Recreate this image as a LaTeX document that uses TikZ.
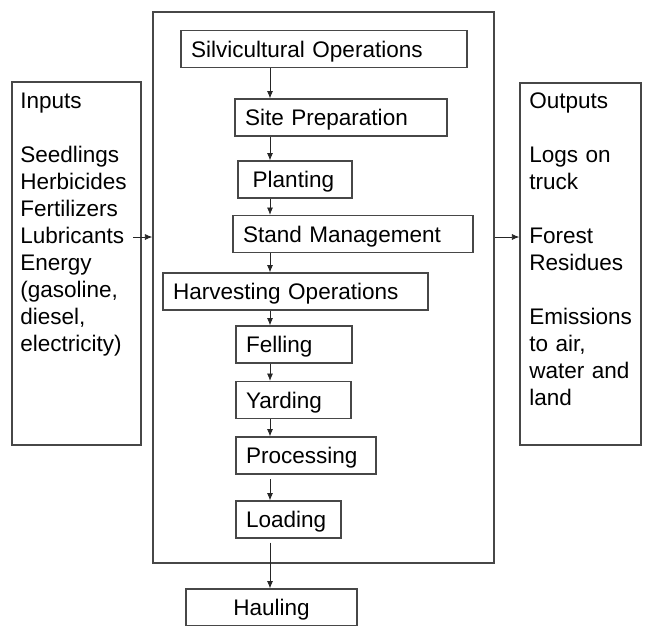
\documentclass[tikz,border=0pt]{standalone}
\usepackage{fontspec}
\setmainfont{Liberation Sans}
\usetikzlibrary{arrows.meta}
\definecolor{edge}{rgb}{0.28,0.28,0.28}

\begin{document}
\begin{tikzpicture}[x=0.75pt,y=-0.75pt,
    font=\fontsize{16.9}{20.25}\selectfont,
    frame/.style={draw=edge, line width=1.1pt},
    stage/.style={draw=edge, line width=0.9pt, align=left, inner xsep=7.5pt,
      text height=12pt, text depth=0pt, minimum height=27.75pt},
    flow/.style={draw=black!85, line width=0.6pt, -{Latex[length=5.5pt,width=4.5pt]}},
    list/.style={anchor=base west, align=left, inner sep=0pt, text width=110pt}]
  %Config
  \useasboundingbox (0,0) rectangle (645,625);
  \clip (0,0) rectangle (645,625);
  \coordinate (col) at (270,0);
  \coordinate (port) at (133,237);

  %Caixas grandes
  \node[frame, minimum width=96.75pt, minimum height=272.25pt] (inbox) at (76.5,263.5) {};
  \node[frame, minimum width=255.75pt, minimum height=413.25pt] (mainbox) at (323.5,287.5) {};
  \node[frame, minimum width=90.75pt, minimum height=271.5pt] (outbox) at (580.5,264) {};

  %Textos
  \node[list] (intext) at (20,108) {Inputs\\[20.25pt]Seedlings\\Herbicides\\Fertilizers\\Lubricants\\Energy\\(gasoline,\\diesel,\\electricity)};
  \node[list] (outtext) at (529,108) {Outputs\\[20.25pt]Logs on\\truck\\[20.25pt]Forest\\Residues\\[20.25pt]Emissions\\to air,\\water and\\land};

  %Etapas
  \node[stage, text width=199.5pt] (silv) at (324,49) {Silvicultural Operations};
  \node[stage, text width=144pt] (site) at (341,117.5) {Site Preparation};
  \node[stage, inner xsep=11pt, text width=63.5pt] (plant) at (295,179.5) {Planting};
  \node[stage, text width=165pt] (stand) at (353,234) {Stand Management};
  \node[stage, text width=183.75pt] (harv) at (295.5,291.5) {Harvesting Operations};
  \node[stage, text width=72pt] (fell) at (294,344.5) {Felling};
  \node[stage, text width=71.25pt] (yard) at (293.5,400) {Yarding};
  \node[stage, text width=90pt] (proc) at (306,455.5) {Processing};
  \node[stage, text width=63.75pt] (load) at (288.5,519.5) {Loading};
  \node[stage, text width=113.25pt, align=center] (haul) at (271.5,607.5) {Hauling};

  %Setas
  \draw[flow] (port) -- (mainbox.west |- port);
  \draw[flow] (mainbox.east |- port) -- (outbox.west |- port);
  \draw[flow] (silv.south -| col) -- (site.north -| col);
  \draw[flow] (site.south -| col) -- (plant.north -| col);
  \draw[flow] (plant.south -| col) -- (stand.north -| col);
  \draw[flow] (stand.south -| col) -- (harv.north -| col);
  \draw[flow] (harv.south -| col) -- (fell.north -| col);
  \draw[flow] (fell.south -| col) -- (yard.north -| col);
  \draw[flow] (yard.south -| col) -- (proc.north -| col);
  \draw[flow, shorten <=3.5pt] (proc.south -| col) -- (load.north -| col);
  \draw[flow, shorten <=3pt] (load.south -| col) -- (haul.north -| col);
\end{tikzpicture}
\end{document}
